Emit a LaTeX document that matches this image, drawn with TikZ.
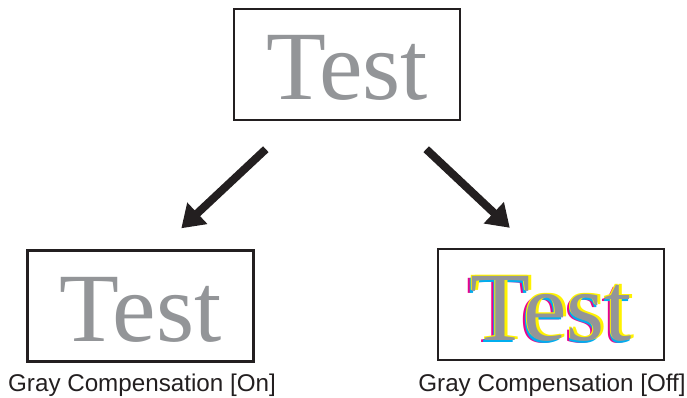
\documentclass[tikz,border=0pt]{standalone}
\usepackage{fontspec}
\setmainfont{Liberation Serif}
\setsansfont{Liberation Sans}
\usepackage{tikz}
\usetikzlibrary{arrows.meta, positioning}

\definecolor{txtgray}{RGB}{147,149,152}
\definecolor{linedark}{RGB}{35,31,32}
\definecolor{cmyc}{RGB}{0,174,239}
\definecolor{cmym}{RGB}{236,0,140}
\definecolor{cmyy}{RGB}{255,242,0}

\begin{document}
\begin{tikzpicture}[
  x=1pt, y=-1pt,
  box/.style={
    rectangle, draw=linedark, line width=2.4pt,
    minimum width=226pt, minimum height=111pt,
    inner sep=0pt, text height=71pt, text depth=0pt,
    font=\fontsize{98}{98}\selectfont, text=txtgray
  },
  ghost/.style={
    inner sep=0pt, text height=71pt, text depth=0pt,
    font=\fontsize{98}{98}\selectfont
  },
  lbl/.style={font=\sffamily\fontsize{24.2}{25}\selectfont, text=linedark, anchor=base},
  arr/.style={-{Triangle[length=22pt, width=28pt]}, line width=8pt, draw=linedark}
]
\useasboundingbox (0,0) rectangle (687,398);

% original
\node[box] (top) at (347,64.5) {Test};

% compensation on
\node[box] (left) at (140.5,306) {Test};

% compensation off (misregistered cmy copies under the gray)
\node[ghost, text=cmym] (offm) at ([xshift=-3.5pt, yshift=-2.5pt]551,304.5) {Test};
\node[ghost, text=cmyc] (offc) at ([xshift=-1.5pt, yshift=-2.5pt]551,304.5) {Test};
\node[ghost, text=cmyy] (offy1) at ([xshift=-1pt, yshift=1pt]551,304.5) {Test};
\node[ghost, text=cmyy] (offy2) at ([xshift=3pt, yshift=1pt]551,304.5) {Test};
\node[box] (right) at (551,304.5) {Test};

% labels
\node[lbl] (lblon)  at (142,391) {Gray Compensation [On]};
\node[lbl] (lbloff) at (552,391) {Gray Compensation [Off]};

% arrows
\draw[arr] ([shift={(33,28)}]top.south west) -- ([shift={(155,-21)}]left.north west);
\draw[arr] ([shift={(-35,28)}]top.south east) -- ([shift={(73,-20)}]right.north west);

\end{tikzpicture}
\end{document}
